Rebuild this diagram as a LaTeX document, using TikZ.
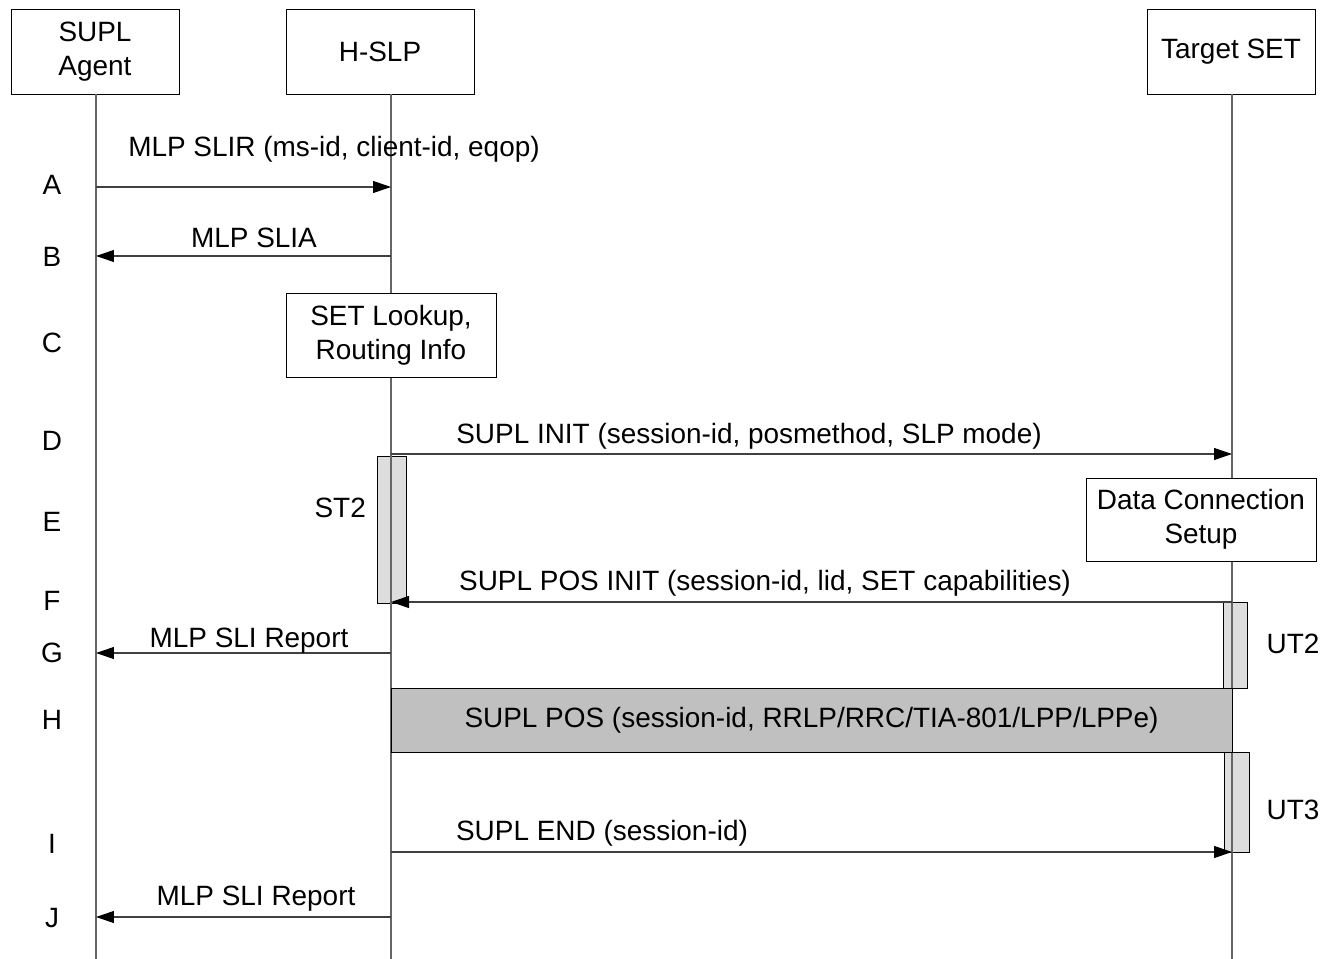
\documentclass[tikz,border=0pt]{standalone}
\usepackage{fontspec}
\setmainfont{Liberation Sans}
\usetikzlibrary{arrows.meta}
\definecolor{barfill}{HTML}{DDDDDD}
\definecolor{posfill}{HTML}{C0C0C0}

\begin{document}
\begin{tikzpicture}[
    x=0.02cm, y=-0.02cm,
    every node/.style={font=\fontsize{15.9}{19.3}\selectfont},
    entity/.style={draw, fill=white, minimum width=3.36cm, minimum height=1.7cm,
                   align=center, inner sep=0pt},
    action/.style={draw, fill=white, align=center, inner sep=0pt},
    timer/.style={draw, fill=barfill, minimum width=#1, inner sep=0pt},
    life/.style={gray!80!black, line width=0.6pt},
    msg/.style={-{Triangle[length=0.36cm, width=0.24cm, color=black]}, black!75, line width=0.6pt},
    steplabel/.style={anchor=center}
]
\useasboundingbox (0,0) rectangle (1322,959);

% Lifeline columns
\coordinate (a) at (96,0);
\coordinate (h) at (391,0);
\coordinate (t) at (1232,0);

% Timer bars
\node[timer=0.58cm, minimum height=2.94cm] (st2bar) at (391.5,529.5) {};
\node[left] (st2) at (372,508) {ST2};
\node[timer=0.48cm, minimum height=1.72cm] (ut2bar) at (1235,645) {};
\node (ut2) at (1293,644) {UT2};
\node[timer=0.5cm, minimum height=2cm] (ut3bar) at (1236.5,802) {};
\node (ut3) at (1293,810) {UT3};

% Entities and lifelines
\node[entity] (agent) at (95,51.5) {SUPL\\Agent};
\node[entity, minimum width=3.76cm] (hslp) at (380,51.5) {H-SLP};
\node[entity] (tset) at (1231,51.5) {Target SET};
\draw[life] (a |- agent.south) -- (a |- 0,959);
\draw[life] (h |- hslp.south) -- (h |- 0,959);
\draw[life] (t |- tset.south) -- (t |- 0,959);

% Step letters
\foreach \lbl/\yy in {A/185, B/257, C/343, D/441, E/522, F/601, G/653, H/720, I/844, J/918}
    \node[steplabel] (s\lbl) at (52,\yy) {\lbl};

% Local actions
\node[action, minimum width=4.2cm, minimum height=1.68cm] (lookup) at (391,335)
    {SET Lookup,\\Routing Info};
\node[action, minimum width=4.6cm, minimum height=1.66cm] (dcs) at (1201,519.5)
    {Data Connection\\Setup};
\node[action, fill=posfill, minimum width=16.82cm, minimum height=1.28cm] (pos) at (811.5,720)
    {SUPL POS (session-id, RRLP/RRC/TIA-801/LPP/LPPe)};

% Messages
\draw[msg] (a |- 0,187) -- (h |- 0,187);
\node (mA) at (334,149) {MLP SLIR (ms-id, client-id, eqop)};
\draw[msg] (h |- 0,256) -- (a |- 0,256);
\node (mB) at (254,238) {MLP SLIA};
\draw[msg] (h |- 0,454) -- (t |- 0,454);
\node (mD) at (749,436) {SUPL INIT (session-id, posmethod, SLP mode)};
\draw[msg] (t |- 0,602) -- (h |- 0,602);
\node (mF) at (765,583) {SUPL POS INIT (session-id, lid, SET capabilities)};
\draw[msg] (h |- 0,653) -- (a |- 0,653);
\node (mG) at (249,641) {MLP SLI Report};
\draw[msg] (h |- 0,852) -- (t |- 0,852);
\node (mI) at (602,833) {SUPL END (session-id)};
\draw[msg] (h |- 0,917) -- (a |- 0,917);
\node (mJ) at (256,899) {MLP SLI Report};

\end{tikzpicture}
\end{document}
